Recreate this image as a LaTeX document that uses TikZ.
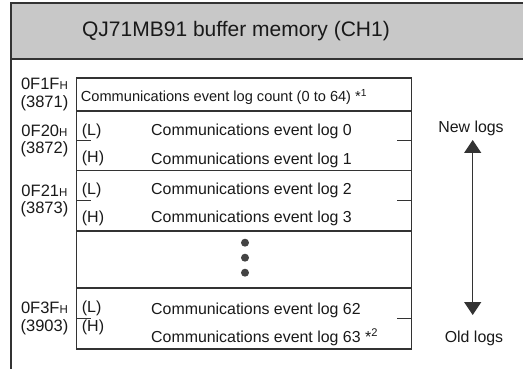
\documentclass[tikz,border=0pt]{standalone}
\usepackage{fontspec}
\setmainfont{Liberation Sans}
\usepackage{tikz}
\usetikzlibrary{positioning, arrows.meta}
\usepackage{xcolor}
\definecolor{linegray}{HTML}{333333}
\definecolor{headgray}{HTML}{C8C8C8}
\definecolor{dotgray}{HTML}{444444}
\newcommand{\hexaddr}[1]{#1{\fontsize{11.5}{12}\selectfont H}}

\begin{document}
\begin{tikzpicture}[
        x = 1pt, y = 1pt,
        headbox/.style = {draw=linegray, line width=1.4pt, fill=headgray, rectangle, minimum width=530pt, minimum height=56pt, anchor=north west, inner sep=0pt, outer sep=0pt},
        title/.style   = {font=\fontsize{21}{24}\selectfont, text=black!90},
        cell/.style    = {draw=linegray, line width=1.1pt, rectangle, minimum width=335pt, inner sep=0pt, outer sep=0pt},
        addr/.style    = {font=\fontsize{16.5}{17.5}\selectfont, align=center, inner sep=0pt, text=black!90},
        half/.style    = {font=\fontsize{16}{17}\selectfont, anchor=west, inner sep=0pt, text=black!90},
        logtxt/.style  = {font=\fontsize{15.9}{17}\selectfont, anchor=west, inner sep=0pt, text=black!90},
        sidetxt/.style = {font=\fontsize{15.9}{17}\selectfont, inner sep=0pt, text=black!90},
        tick/.style    = {draw=linegray, line width=1.1pt},
        dot/.style     = {circle, fill=dotgray, minimum size=8pt, inner sep=0pt},
        logarrow/.style = {{Triangle[length=13pt, width=17pt]}-{Triangle[length=13pt, width=17pt]}, line width=1.2pt, draw=linegray, fill=black!90},
    ]
        \useasboundingbox (0,0) rectangle (523,-369);

        % frame and heading
        \node[headbox] (head) at (11,-3) {};
        \node[title] (ttl) at (236,-31) {QJ71MB91 buffer memory (CH1)};
        \coordinate (framebot) at (11,-370);
        \draw[linegray, line width=1.4pt] (head.south west) -- (framebot);

        % buffer memory rows
        \node[cell, minimum height=33pt, anchor=north west] (cnt) at (76.5,-78) {};
        \node[cell, minimum height=59.5pt, below=0pt of cnt] (r20) {};
        \node[cell, minimum height=60.5pt, below=0pt of r20] (r21) {};
        \node[cell, minimum height=57pt, below=0pt of r21] (dots) {};
        \node[cell, minimum height=61pt, below=0pt of dots] (r3f) {};

        \node[addr, left=8pt of cnt] (a1f) {\hexaddr{0F1F}\\(3871)};
        \node[addr, left=8pt of r20] (a20) {\hexaddr{0F20}\\(3872)};
        \node[addr, left=8pt of r21] (a21) {\hexaddr{0F21}\\(3873)};
        \node[addr, left=8pt of r3f] (a3f) {\hexaddr{0F3F}\\(3903)};

        \foreach \r in {r20, r21, r3f} {
            \draw[tick] (\r.west) -- ++(14,0);
            \draw[tick] (\r.east) -- ++(-15,0);
        }

        \node[logtxt, font=\fontsize{14.6}{16}\selectfont] (cnttxt) at (80.7,-97) {Communications event log count (0 to 64) *\textsuperscript{1}};

        \node[half] (l20) at (81.7,-131.5) {(L)};
        \node[half] (h20) at (81.7,-158.5) {(H)};
        \node[logtxt] (log0) at (151,-131) {Communications event log 0};
        \node[logtxt] (log1) at (151,-160) {Communications event log 1};

        \node[half] (l21) at (81.7,-190) {(L)};
        \node[half] (h21) at (81.7,-218) {(H)};
        \node[logtxt] (log2) at (151,-190) {Communications event log 2};
        \node[logtxt] (log3) at (151,-218.5) {Communications event log 3};

        \foreach \i in {1,2,3}
            \node[dot] (d\i) at (245,-227.7-15*\i) {};

        \node[half] (l3f) at (81.7,-308.5) {(L)};
        \node[half] (h3f) at (81.7,-327) {(H)};
        \node[logtxt] (log62) at (151,-310.5) {Communications event log 62};
        \node[logtxt] (log63) at (151,-337) {Communications event log 63 *\textsuperscript{2}};

        % order of the logs
        \node[sidetxt] (newlog) at (471,-128) {New logs};
        \node[sidetxt] (oldlog) at (474,-338) {Old logs};
        \coordinate (uptip) at (472.7,-140);
        \coordinate (dntip) at (472.7,-315);
        \draw[logarrow] (uptip) -- (dntip);
    \end{tikzpicture}
\end{document}
